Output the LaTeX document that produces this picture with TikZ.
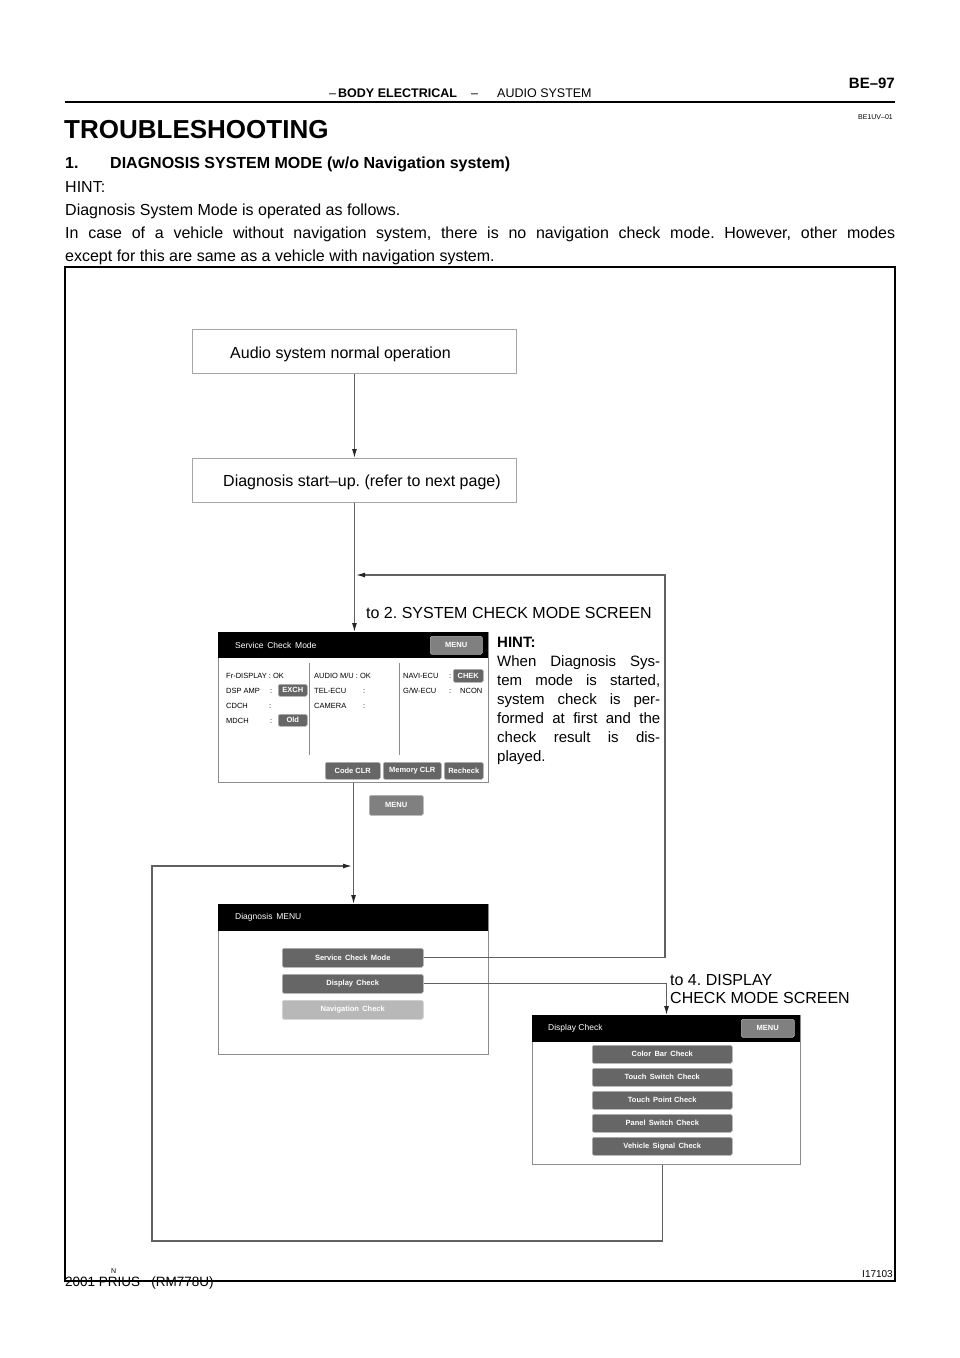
\documentclass[tikz,border=0pt]{standalone}
\usepackage{fontspec}
\setmainfont{Liberation Sans}
\usetikzlibrary{arrows.meta}
\frenchspacing
\begin{document}
\begin{tikzpicture}[x=1pt,y=-1pt,
  body/.style={anchor=base west, inner sep=0pt, font=\fontsize{16}{19}\selectfont},
  hint/.style={anchor=base west, inner sep=0pt, font=\fontsize{15}{18}\selectfont},
  flowbox/.style={draw=black!35, line width=0.9pt, anchor=north west, inner sep=0pt},
  scrn/.style={draw=black!45, line width=1.1pt, fill=white, anchor=north west, inner sep=0pt},
  bar/.style={fill=black, anchor=north west, inner sep=0pt},
  btn/.style={fill=black!60, draw=black!30, line width=0.5pt, rounded corners=1.5pt, anchor=north west, inner sep=0pt, text=white, font=\fontsize{7.5}{8}\selectfont\bfseries},
  lbtn/.style={btn, fill=black!28, draw=black!18},
  mbtn/.style={btn, fill=black!50},
  scrtxt/.style={anchor=base west, inner sep=0pt, font=\fontsize{7.5}{9}\selectfont},
  bartxt/.style={anchor=west, inner sep=0pt, text=white, font=\fontsize{8.5}{10}\selectfont},
  conn/.style={draw=black!62, line width=1.2pt},
  arr/.style={conn, -{Latex[length=9pt,width=5pt,color=black!85]}},
  sep/.style={draw=black!45, line width=0.9pt}
]
\useasboundingbox (0,0) rectangle (960,1358);
\fill[white] (0,0) rectangle (960,1358);

% ---------- page header ----------
\node[anchor=base east, inner sep=0pt, font=\fontsize{15}{18}\selectfont\bfseries] (pg) at (895,88) {BE–97};
\node[anchor=base west, inner sep=0pt, font=\fontsize{12.5}{15}\selectfont] (hd1) at (329,97) {–};
\node[anchor=base west, inner sep=0pt, font=\fontsize{12.5}{15}\selectfont\bfseries] (hd2) at (338,97) {BODY ELECTRICAL};
\node[anchor=base west, inner sep=0pt, font=\fontsize{12.5}{15}\selectfont] (hd3) at (471,97) {–};
\node[anchor=base west, inner sep=0pt, font=\fontsize{12.5}{15}\selectfont] (hd4) at (497,97) {AUDIO SYSTEM};
\draw[line width=1.8pt] (65,102) -- (895,102);
\node[anchor=base east, inner sep=0pt, font=\fontsize{7}{8}\selectfont] (code) at (893,119) {BE1UV–01};

\node[anchor=base west, inner sep=0pt, font=\fontsize{26}{30}\selectfont\bfseries] (title) at (64,138) {TROUBLESHOOTING};
\node[body, font=\fontsize{16}{19}\selectfont\bfseries] (n1) at (65,168) {1.};
\node[body, font=\fontsize{16}{19}\selectfont\bfseries] (sec) at (110,168) {DIAGNOSIS SYSTEM MODE (w/o Navigation system)};
\node[body] (p1) at (65,192) {HINT:};
\node[body] (p2) at (65,215) {Diagnosis System Mode is operated as follows.};
\node[body] (p3) at (65,238) {\makebox[830pt][s]{In case of a vehicle without navigation system, there is no navigation check mode. However, other modes}};
\node[body] (p4) at (65,261) {except for this are same as a vehicle with navigation system.};

% ---------- figure frame ----------
\draw[line width=1.5pt] (65,267) rectangle (895,1281);

% ---------- flow boxes ----------
\node[flowbox, minimum width=324pt, minimum height=44pt] (b1) at (192,329) {};
\node[body] (t1) at (230,358) {Audio system normal operation};
\node[flowbox, minimum width=324pt, minimum height=44pt] (b2) at (192,458) {};
\node[body] (t2) at (223,486) {Diagnosis start–up. (refer to next page)};

\node[body] (lab2) at (366,618) {to 2. SYSTEM CHECK MODE SCREEN};
\node[body] (lab4a) at (670,985) {to 4. DISPLAY};
\node[body] (lab4b) at (670,1003) {CHECK MODE SCREEN};

% HINT paragraph
\node[hint, font=\fontsize{15}{18}\selectfont\bfseries] (hh) at (497,647) {HINT:};
\node[hint] (h1) at (497,666) {\makebox[163pt][s]{When Diagnosis Sys-}};
\node[hint] (h2) at (497,685) {\makebox[163pt][s]{tem mode is started,}};
\node[hint] (h3) at (497,704) {\makebox[163pt][s]{system check is per-}};
\node[hint] (h4) at (497,723) {\makebox[163pt][s]{formed at first and the}};
\node[hint] (h5) at (497,742) {\makebox[163pt][s]{check result is dis-}};
\node[hint] (h6) at (497,761) {played.};

% ---------- screen: Service Check Mode ----------
\node[scrn, minimum width=270pt, minimum height=150pt] (scm) at (218,632) {};
\node[bar, minimum width=270pt, minimum height=26pt] (scmT) at (218,632) {};
\node[bartxt] (scmTt) at (235,645) {Service\, Check\, Mode};
\node[mbtn, minimum width=52pt, minimum height=18pt] (scmM) at (430,636) {MENU};
\node[scrtxt] (r1a) at (226,678) {Fr-DISPLAY : OK};
\node[scrtxt] (r2a) at (226,693) {DSP AMP};
\node[scrtxt] (r2b) at (270,693) {:};
\node[btn, minimum width=29pt, minimum height=12pt] (exch) at (278,684) {EXCH};
\node[scrtxt] (r3a) at (226,708) {CDCH};
\node[scrtxt] (r3b) at (269,708) {:};
\node[scrtxt] (r4a) at (226,723) {MDCH};
\node[scrtxt] (r4b) at (270,723) {:};
\node[btn, minimum width=29pt, minimum height=12pt] (old) at (278,714) {Old};
\draw[sep] (309,663) -- (309,755);
\node[scrtxt] (c2a) at (314,678) {AUDIO M/U : OK};
\node[scrtxt] (c2b) at (314,693) {TEL-ECU};
\node[scrtxt] (c2c) at (363,693) {:};
\node[scrtxt] (c2d) at (314,708) {CAMERA};
\node[scrtxt] (c2e) at (363,708) {:};
\draw[sep] (399,663) -- (399,755);
\node[scrtxt] (c3a) at (403,678) {NAVI-ECU};
\node[scrtxt] (c3b) at (449,678) {:};
\node[btn, minimum width=30pt, minimum height=13pt] (chek) at (453,669) {CHEK};
\node[scrtxt] (c3c) at (403,693) {G/W-ECU};
\node[scrtxt] (c3d) at (449,693) {:};
\node[scrtxt] (c3e) at (460,693) {NCON};
\node[btn, minimum width=55pt, minimum height=17pt] (cclr) at (325,762) {Code CLR};
\node[btn, minimum width=58pt, minimum height=17pt] (mclr) at (383,762) {Memory CLR};
\node[btn, minimum width=39pt, minimum height=17pt] (rchk) at (444,762) {Recheck};

\node[mbtn, minimum width=54pt, minimum height=20pt] (menu2) at (369,795) {MENU};

% ---------- screen: Diagnosis MENU ----------
\node[scrn, minimum width=270pt, minimum height=150pt] (dm) at (218,904) {};
\node[bar, minimum width=270pt, minimum height=27pt] (dmT) at (218,904) {};
\node[bartxt] (dmTt) at (235,917) {Diagnosis\, MENU};
\node[btn, minimum width=141pt, minimum height=19pt] (sB) at (282,948) {Service\, Check\, Mode};
\node[btn, minimum width=141pt, minimum height=19pt] (dB) at (282,974) {Display\, Check};
\node[lbtn, minimum width=141pt, minimum height=19pt] (nB) at (282,1000) {Navigation\, Check};

% ---------- screen: Display Check ----------
\node[scrn, minimum width=268pt, minimum height=149pt] (dc) at (532,1015) {};
\node[bar, minimum width=268pt, minimum height=27pt] (dcT) at (532,1015) {};
\node[bartxt] (dcTt) at (548,1028) {Display Check};
\node[mbtn, minimum width=53pt, minimum height=18pt] (dcM) at (741,1019) {MENU};
\node[btn, minimum width=140pt, minimum height=18pt] (k1) at (592,1045) {Color\, Bar\, Check};
\node[btn, minimum width=140pt, minimum height=18pt] (k2) at (592,1068) {Touch\, Switch\, Check};
\node[btn, minimum width=140pt, minimum height=18pt] (k3) at (592,1091) {Touch\, Point Check};
\node[btn, minimum width=140pt, minimum height=18pt] (k4) at (592,1114) {Panel\, Switch\, Check};
\node[btn, minimum width=140pt, minimum height=18pt] (k5) at (592,1137) {Vehicle\, Signal\, Check};

% ---------- connectors ----------
\coordinate (c1) at (665,575);
\coordinate (j1) at (356,575);
\coordinate (c2) at (152,1241);
\coordinate (j2) at (352,866);
\draw[arr] (b1.south) -- (b2.north);
\draw[arr] (b2.south) -- (b2.south |- scm.north);
\draw[arr] (scm.south) -- (scm.south |- dm.north);
\draw[arr] (sB.east) -| (c1) -- (j1);
\draw[arr] (dB.east) -| (dc.north);
\draw[arr] ([xshift=-4pt]dc.south) |- (c2) |- (j2);

% ---------- footer ----------
\node[anchor=base west, inner sep=0pt, font=\fontsize{13.5}{16}\selectfont] (foot) at (65,1286) {2001 PRIUS\ \ \ (RM778U)};
\node[anchor=base west, inner sep=0pt, font=\fontsize{7}{8}\selectfont] (fn) at (111,1273) {N};
\node[anchor=base east, inner sep=0pt, font=\fontsize{10}{12}\selectfont] (fig) at (893,1277) {I17103};
\end{tikzpicture}
\end{document}
